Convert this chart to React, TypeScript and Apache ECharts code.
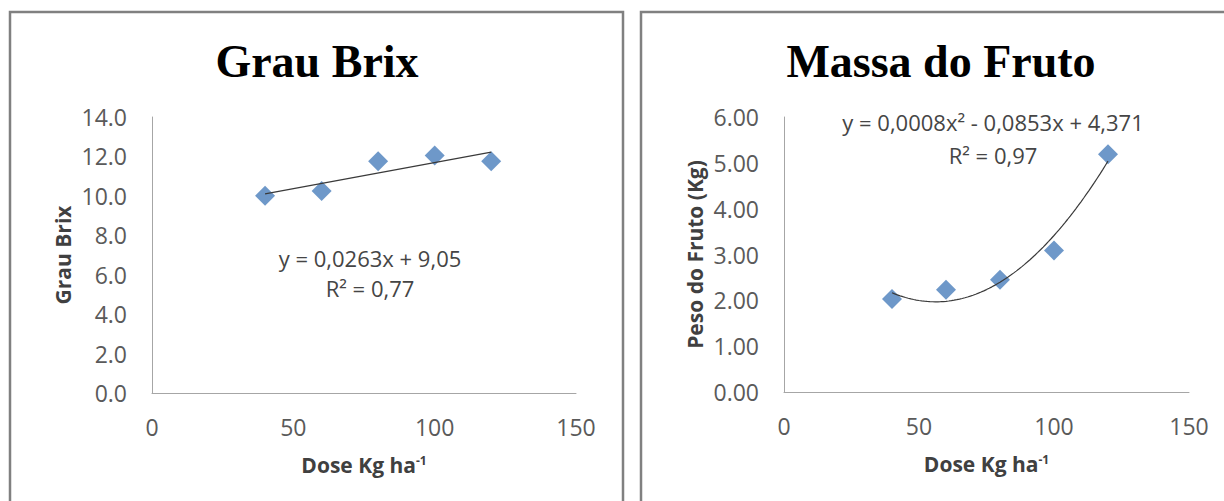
import React, { useEffect, useRef } from "react";
import * as echarts from "echarts";

// ---- data ----
const dose = [40, 60, 80, 100, 120];
const brix = [10.0, 10.25, 11.75, 12.05, 11.75];
const massa = [2.03, 2.23, 2.45, 3.09, 5.19];
const brixEq = "y = 0,0263x + 9,05";
const brixR2 = "R² = 0,77";
const massaEq = "y = 0,0008x² - 0,0853x + 4,371";
const massaR2 = "R² = 0,97";
const titles = ["Grau Brix", "Massa do Fruto"];

// least-squares fits (as a spreadsheet trendline does)
function linFit(xs: number[], ys: number[]) {
  const n = xs.length;
  const mx = xs.reduce((a, b) => a + b, 0) / n;
  const my = ys.reduce((a, b) => a + b, 0) / n;
  let sxy = 0, sxx = 0;
  for (let i = 0; i < n; i++) {
    sxy += (xs[i] - mx) * (ys[i] - my);
    sxx += (xs[i] - mx) * (xs[i] - mx);
  }
  const b = sxy / sxx;
  return (x: number) => my - b * mx + b * x;
}
function quadFit(xs: number[], ys: number[]) {
  const S = [0, 0, 0, 0, 0];
  const T = [0, 0, 0];
  for (let i = 0; i < xs.length; i++) {
    let p = 1;
    for (let k = 0; k < 5; k++) { S[k] += p; p *= xs[i]; }
    T[0] += ys[i]; T[1] += ys[i] * xs[i]; T[2] += ys[i] * xs[i] * xs[i];
  }
  const M = [
    [S[0], S[1], S[2], T[0]],
    [S[1], S[2], S[3], T[1]],
    [S[2], S[3], S[4], T[2]],
  ];
  for (let c = 0; c < 3; c++) {
    for (let r = c + 1; r < 3; r++) {
      const f = M[r][c] / M[c][c];
      for (let k = c; k < 4; k++) M[r][k] -= f * M[c][k];
    }
  }
  const co = [0, 0, 0];
  for (let r = 2; r >= 0; r--) {
    let s = M[r][3];
    for (let k = r + 1; k < 3; k++) s -= M[r][k] * co[k];
    co[r] = s / M[r][r];
  }
  return (x: number) => co[0] + co[1] * x + co[2] * x * x;
}

const FONT = "'Open Sans', 'Noto Sans', sans-serif";
const SERIF = "'Liberation Serif', 'DejaVu Serif', serif";
const MARK = "#4A7EBB";

export default function App() {
  const ref = useRef<HTMLDivElement>(null);
  useEffect(() => {
    if (!ref.current) return;
    const chart = echarts.init(ref.current, undefined, { renderer: "svg" });

    const fLin = linFit(dose, brix);
    const fQuad = quadFit(dose, massa);
    const x0 = dose[0], x1 = dose[dose.length - 1];
    const linLine = [[x0, fLin(x0)], [x1, fLin(x1)]];
    const quadLine: number[][] = [];
    for (let x = x0; x <= x1; x += 1) quadLine.push([x, fQuad(x)]);

    const xAxisBase = (gi: number) => ({
      type: "value",
      gridIndex: gi,
      min: 0,
      max: 150,
      interval: 50,
      axisLine: { show: true, lineStyle: { color: "#a6a6a6", width: 1 } },
      axisTick: { show: false },
      splitLine: { show: false },
      axisLabel: { color: "#5a5a5a", fontFamily: FONT, fontSize: 23, margin: 22 },
      name: "{a|Dose Kg ha}{b|-1}",
      nameLocation: "middle",
      nameGap: 61,
      nameTextStyle: {
        rich: {
          a: { fontFamily: FONT, fontSize: 21, fontWeight: "bold", color: "#404040" },
          b: { fontFamily: FONT, fontSize: 12, fontWeight: "bold", color: "#404040", verticalAlign: "top" },
        },
      },
    });

    const yAxisBase = (gi: number, max: number, interval: number, dec: number, name: string) => ({
      type: "value",
      gridIndex: gi,
      min: 0,
      max,
      interval,
      axisLine: { show: true, lineStyle: { color: "#a6a6a6", width: 1 } },
      axisTick: { show: false },
      splitLine: { show: false },
      axisLabel: {
        color: "#5a5a5a",
        fontFamily: FONT,
        fontSize: 23,
        margin: 25,
        formatter: (v: number) => v.toFixed(dec),
      },
      name,
      nameLocation: "middle",
      nameGap: 79,
      nameRotate: 90,
      nameTextStyle: { fontFamily: FONT, fontSize: 21, fontWeight: "bold", color: "#404040" },
    });

    const textEl = (x: number, y: number, text: string, font: any) => ({
      type: "text",
      x,
      y,
      z: 50,
      style: {
        text,
        ...font,
        align: "center",
        verticalAlign: "middle",
        textAlign: "center",
        textVerticalAlign: "middle",
      },
    });
    const titleFont = { fontFamily: SERIF, fontSize: 46, fontWeight: "bold", fill: "#000" };
    const eqFont = { fontFamily: FONT, fontSize: 22, fill: "#454545" };

    chart.setOption({
      animation: false,
      backgroundColor: "#ffffff",
      grid: [
        { left: 152, top: 117, width: 424, height: 276 },
        { left: 784, top: 117, width: 405, height: 275 },
      ],
      xAxis: [xAxisBase(0), xAxisBase(1)],
      yAxis: [
        yAxisBase(0, 14, 2, 1, "Grau Brix"),
        yAxisBase(1, 6, 1, 2, "Peso do Fruto (Kg)"),
      ],
      graphic: {
        elements: [
          {
            type: "rect",
            z: -10,
            shape: { x: 10, y: 12, width: 613, height: 520 },
            style: { fill: "#ffffff", stroke: "#808080", lineWidth: 2.5 },
          },
          {
            type: "rect",
            z: -10,
            shape: { x: 641, y: 12, width: 613, height: 520 },
            style: { fill: "#ffffff", stroke: "#808080", lineWidth: 2.5 },
          },
          textEl(317, 61, titles[0], titleFont),
          textEl(941, 61, titles[1], titleFont),
          textEl(370, 258, brixEq, eqFont),
          textEl(370, 288, brixR2, eqFont),
          textEl(993, 122, massaEq, eqFont),
          textEl(993, 155, massaR2, eqFont),
        ],
      },
      series: [
        {
          type: "scatter",
          xAxisIndex: 0,
          yAxisIndex: 0,
          symbol: "diamond",
          symbolSize: 20,
          itemStyle: { color: MARK },
          data: dose.map((d, i) => [d, brix[i]]),
          z: 3,
        },
        {
          type: "line",
          xAxisIndex: 0,
          yAxisIndex: 0,
          showSymbol: false,
          symbol: "none",
          lineStyle: { color: "#3a3a3a", width: 1.2 },
          data: linLine,
          z: 4,
        },
        {
          type: "scatter",
          xAxisIndex: 1,
          yAxisIndex: 1,
          symbol: "diamond",
          symbolSize: 20,
          itemStyle: { color: MARK },
          data: dose.map((d, i) => [d, massa[i]]),
          z: 3,
        },
        {
          type: "line",
          xAxisIndex: 1,
          yAxisIndex: 1,
          showSymbol: false,
          symbol: "none",
          lineStyle: { color: "#3a3a3a", width: 1.2 },
          data: quadLine,
          z: 4,
        },
      ],
    });
    return () => chart.dispose();
  }, []);
  return (
    <div
      ref={ref}
      style={{ position: "absolute", left: 0, top: 0, width: 1224, height: 501 }}
    />
  );
}
